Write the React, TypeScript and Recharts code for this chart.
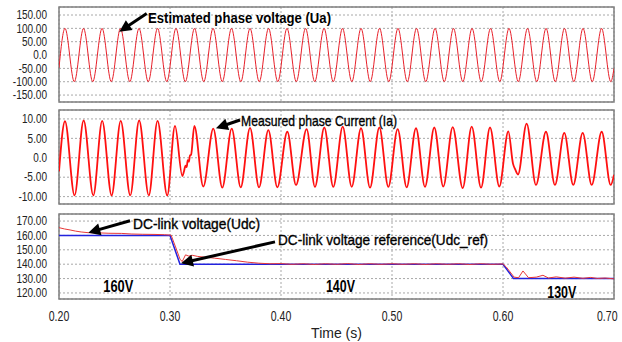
import React from 'react';
import { LineChart, Line, XAxis, YAxis, CartesianGrid, ReferenceArea, ReferenceLine, ReferenceDot } from 'recharts';

// ---------- data ----------
const xTicks = [0.2, 0.3, 0.4, 0.5, 0.6, 0.7];
const uaTicks = [150, 100, 50, 0, -50, -100, -150];
const iaTicks = [10, 5, 0, -5, -10];
const udcTicks = [170, 160, 150, 140, 130, 120];

// Estimated phase voltage Ua (peaks / troughs)
const uaTime = [0.2, 0.2054, 0.2138, 0.2221, 0.2304, 0.2388, 0.2471, 0.2554, 0.2638, 0.2721, 0.2804, 0.2888, 0.2971,
  0.3054, 0.3138, 0.3221, 0.3304, 0.3388, 0.3471, 0.3554, 0.3638, 0.3721, 0.3804, 0.3888, 0.3971,
  0.4054, 0.4138, 0.4221, 0.4304, 0.4388, 0.4471, 0.4554, 0.4638, 0.4721, 0.4804, 0.4888, 0.4971,
  0.5054, 0.5138, 0.5221, 0.5304, 0.5388, 0.5471, 0.5554, 0.5638, 0.5721, 0.5804, 0.5888, 0.5971,
  0.6054, 0.6138, 0.6221, 0.6304, 0.6388, 0.6471, 0.6554, 0.6638, 0.6721, 0.6804, 0.6888, 0.6971, 0.7];
const uaValue = [-48, 100, -100, 100, -100, 100, -100, 100, -100, 100, -100, 100, -100,
  100, -100, 100, -100, 100, -100, 100, -100, 100, -100, 100, -100,
  100, -100, 100, -100, 100, -100, 100, -100, 100, -100, 100, -100,
  100, -100, 100, -100, 100, -100, 100, -100, 100, -100, 100, -100,
  100, -100, 100, -100, 100, -100, 100, -100, 100, -100, 100, -100, -50];

// Measured phase current Ia
const iaTime = [0.2, 0.2054, 0.214, 0.2222, 0.2309, 0.2389, 0.2474, 0.2556, 0.2642, 0.2722, 0.2809, 0.2888, 0.2975,
  0.3045, 0.3111, 0.3125, 0.314, 0.315, 0.316, 0.317, 0.318, 0.319, 0.3219,
  0.33, 0.339, 0.3471, 0.3556, 0.3637, 0.3721, 0.3802, 0.3886, 0.3967, 0.4057, 0.4135,
  0.4231, 0.4306, 0.439, 0.4471, 0.4556, 0.4637, 0.4721, 0.4802, 0.4886, 0.4967,
  0.5051, 0.5132, 0.5216, 0.5297, 0.5381, 0.5462, 0.5547, 0.5637, 0.5718, 0.5802, 0.5883, 0.5967,
  0.6048, 0.609, 0.611, 0.6135, 0.6213, 0.6297, 0.6387, 0.6468, 0.6552, 0.6633, 0.6718, 0.6799, 0.6889, 0.697, 0.7];
const iaValue = [-3.5, 9.4, -9.7, 9.6, -9.7, 9.5, -9.7, 9.5, -9.7, 9.6, -9.7, 9.5, -9.7,
  8.2, -4.7, -3.6, -2.0, -2.4, -0.6, -1.0, 0.6, 0.8, 8.2,
  -7.4, 7.5, -7.7, 7.5, -7.6, 7.7, -7.6, 7.1, -7.6, 6.7, -7.0,
  7.4, -7.5, 7.8, -7.5, 8.0, -7.5, 7.6, -7.7, 7.8, -7.5,
  7.4, -7.6, 7.6, -7.5, 7.8, -7.4, 7.9, -7.8, 8.0, -7.7, 7.8, -7.4,
  6.8, -1.5, -3.0, -4.3, 8.8, -7.0, 6.7, -7.0, 6.4, -7.0, 6.4, -7.0, 6.7, -7.0, -4.4];

// DC-link voltage Udc
const udcTime = [0.2, 0.205, 0.21, 0.215, 0.22, 0.2264, 0.235, 0.245, 0.2565, 0.265, 0.275, 0.2865, 0.295, 0.301,
  0.305, 0.309, 0.311, 0.314, 0.317, 0.32, 0.325, 0.33, 0.34, 0.35, 0.36, 0.37, 0.38, 0.39,
  0.4, 0.41, 0.42, 0.43, 0.44, 0.45, 0.46, 0.47, 0.48, 0.49, 0.5, 0.51, 0.52, 0.53, 0.54, 0.55, 0.56, 0.57, 0.58, 0.59, 0.6,
  0.603, 0.61, 0.614, 0.618, 0.623, 0.63, 0.636, 0.641, 0.648, 0.656, 0.664, 0.672, 0.679, 0.685, 0.692, 0.7];
const udcValue = [165.4, 164.5, 163.8, 163.0, 162.4, 161.9, 161.8, 161.5, 161.4, 161.0, 160.8, 160.7, 160.5, 160.2,
  152.0, 143.5, 141.8, 146.5, 145.6, 146.2, 145.4, 145.0, 144.2, 143.3, 142.4, 141.4, 140.7, 140.3,
  140.4, 139.9, 140.3, 139.8, 140.3, 139.9, 140.4, 139.8, 140.3, 139.9, 140.3, 139.9, 140.3, 139.8, 140.3, 139.9, 140.3, 139.8, 140.3, 139.9, 140.2,
  138.0, 131.0, 130.6, 135.3, 130.6, 131.0, 132.3, 130.4, 131.2, 130.3, 131.0, 130.2, 130.8, 130.1, 130.4, 129.8];

// DC-link voltage reference Udc_ref
const refTime = [0.2, 0.3, 0.309, 0.6, 0.6095, 0.7];
const refValue = [160, 160, 140, 140, 130, 130];

const zip = (ts: number[], vs: number[]) => ts.map((t, i) => ({ t, v: vs[i] }));
const uaData = zip(uaTime, uaValue);
const iaData = zip(iaTime, iaValue);
const udcData = zip(udcTime, udcValue);
const refData = zip(refTime, refValue);

// ---------- styling ----------
const W = 622;
const H = 342;
const FONT = "'Liberation Sans Narrow', 'Arial Narrow', 'Liberation Sans', Arial, sans-serif";
const gridColor = '#a8a8a8';
const boxColor = '#808080';

const yFmt = (v: number) => (v === 0 ? '0.0' : v.toFixed(2));

// width of a narrow label, used to compress the glyphs like the original
const narrowWidth = (s: string, digit: number, dot: number, minus: number) =>
  s.split('').reduce((acc, c) => acc + (c === '.' ? dot : c === '-' ? minus : digit), 0);

const YTick = (props: any) => {
  const { x, y, payload } = props;
  const label = yFmt(payload.value);
  return (
    <text x={x} y={y} dy="0.355em" textAnchor="end" fontFamily={FONT} fontSize={12} fill="#222"
      textLength={narrowWidth(label, 5.6, 2.6, 3.6)} lengthAdjust="spacingAndGlyphs">
      {label}
    </text>
  );
};

const XTick = (props: any) => {
  const { x, y, payload } = props;
  const last = payload.value >= 0.7;
  const label = payload.value.toFixed(2);
  return (
    <text x={last ? x - 17 : x} y={y} dy="0.71em" textAnchor={last ? 'start' : 'middle'} fontFamily={FONT} fontSize={14} fill="#222"
      textLength={20.5} lengthAdjust="spacingAndGlyphs">
      {label}
    </text>
  );
};

const Arrow = (props: any) => {
  const { x1, y1, x2, y2 } = props;
  const dx = x2 - x1;
  const dy = y2 - y1;
  const len = Math.hypot(dx, dy) || 1;
  const ux = dx / len;
  const uy = dy / len;
  const hl = 12;
  const hw = 6;
  const bx = x2 - ux * hl;
  const by = y2 - uy * hl;
  const px = -uy;
  const py = ux;
  return (
    <g>
      <line x1={x1} y1={y1} x2={bx + ux * 2} y2={by + uy * 2} stroke="#000" strokeWidth={3} />
      <polygon points={`${x2},${y2} ${bx + px * hw},${by + py * hw} ${bx - px * hw},${by - py * hw}`} fill="#000" />
    </g>
  );
};

const makeText = (label: string, len: number, size: number, bold: boolean) => (p: any) => (
  <text x={p.cx} y={p.cy} fontFamily={FONT} fontSize={size} fontWeight={bold ? 'bold' : 'normal'} fill="#000"
    textLength={len} lengthAdjust="spacingAndGlyphs" stroke={bold ? 'none' : '#000'} strokeWidth={bold ? 0 : 0.35}>
    {label}
  </text>
);

const abs: React.CSSProperties = { position: 'absolute', left: 0, top: 0 };

export default function App() {
  return (
    <div style={{ position: 'absolute', left: 0, top: 0, width: W, height: H, background: '#fff', overflow: 'hidden' }}>
      {/* Panel 1: estimated phase voltage */}
      <div style={abs}>
        <LineChart width={W} height={H} margin={{ top: 7, right: 8, bottom: 240, left: 0 }}>
          <CartesianGrid stroke={gridColor} strokeDasharray="2 2" />
          <XAxis type="number" dataKey="t" domain={[0.2, 0.7]} ticks={xTicks} hide allowDataOverflow />
          <YAxis type="number" domain={[-176, 180]} ticks={uaTicks} width={59} axisLine={false} tickLine={false}
            tickSize={0} tickMargin={12} tick={YTick} allowDataOverflow interval={0} />
          <Line data={uaData} dataKey="v" type="monotone" stroke="#e8202a" strokeWidth={1} dot={false} activeDot={false} isAnimationActive={false} />
          <ReferenceArea x1={0.2} x2={0.7} y1={-176} y2={180} fill="none" stroke={boxColor} strokeWidth={1.5} ifOverflow="visible" />
          <ReferenceLine segment={[{ x: 0.279, y: 156 }, { x: 0.2543, y: 87 }]} shape={Arrow} ifOverflow="visible" />
          <ReferenceDot x={0.2802} y={120} r={0} ifOverflow="visible" shape={makeText('Estimated phase voltage (Ua)', 183, 15.5, true)} />
        </LineChart>
      </div>

      {/* Panel 2: measured phase current */}
      <div style={abs}>
        <LineChart width={W} height={H} margin={{ top: 110, right: 8, bottom: 138, left: 0 }}>
          <CartesianGrid stroke={gridColor} strokeDasharray="2 2" />
          <XAxis type="number" dataKey="t" domain={[0.2, 0.7]} ticks={xTicks} hide allowDataOverflow />
          <YAxis type="number" domain={[-11.9, 12.3]} ticks={iaTicks} width={59} axisLine={false} tickLine={false}
            tickSize={0} tickMargin={12} tick={YTick} allowDataOverflow interval={0} />
          <Line data={iaData} dataKey="v" type="monotone" stroke="#ff1010" strokeWidth={1.8} dot={false} activeDot={false} isAnimationActive={false} />
          <ReferenceArea x1={0.2} x2={0.7} y1={-11.9} y2={12.3} fill="none" stroke={boxColor} strokeWidth={1.5} ifOverflow="visible" />
          <ReferenceLine segment={[{ x: 0.3631, y: 9.73 }, { x: 0.3414, y: 7.59 }]} shape={Arrow} ifOverflow="visible" />
          <ReferenceDot x={0.364} y={8.18} r={0} ifOverflow="visible" shape={makeText('Measured phase Current (Ia)', 156, 15, false)} />
        </LineChart>
      </div>

      {/* Panel 3: DC-link voltage */}
      <div style={abs}>
        <LineChart width={W} height={H} margin={{ top: 214, right: 8, bottom: 0, left: 0 }}>
          <CartesianGrid stroke={gridColor} strokeDasharray="2 2" />
          <XAxis type="number" dataKey="t" domain={[0.2, 0.7]} ticks={xTicks} height={43} axisLine={false} tickLine={false}
            tickSize={0} tickMargin={12} tick={XTick} allowDataOverflow interval={0}
            label={{ value: 'Time (s)', position: 'insideBottom', offset: 4, style: { fontFamily: FONT, fontSize: 14, fill: '#222' } }} />
          <YAxis type="number" domain={[115.8, 174.9]} ticks={udcTicks} width={59} axisLine={false} tickLine={false}
            tickSize={0} tickMargin={12} tick={YTick} allowDataOverflow interval={0} />
          <Line data={refData} dataKey="v" type="linear" stroke="#2222dd" strokeWidth={1.5} dot={false} activeDot={false} isAnimationActive={false} />
          <Line data={udcData} dataKey="v" type="linear" stroke="#e83838" strokeWidth={1} dot={false} activeDot={false} isAnimationActive={false} />
          <ReferenceArea x1={0.2} x2={0.7} y1={115.8} y2={174.9} fill="none" stroke={boxColor} strokeWidth={1.5} ifOverflow="visible" />
          <ReferenceLine segment={[{ x: 0.264, y: 170.25 }, { x: 0.2264, y: 161.9 }]} shape={Arrow} ifOverflow="visible" />
          <ReferenceLine segment={[{ x: 0.3946, y: 155.5 }, { x: 0.3099, y: 140.7 }]} shape={Arrow} ifOverflow="visible" />
          <ReferenceDot x={0.2667} y={164.5} r={0} ifOverflow="visible" shape={makeText('DC-link voltage(Udc)', 127, 15, false)} />
          <ReferenceDot x={0.3973} y={153.4} r={0} ifOverflow="visible" shape={makeText('DC-link voltage reference(Udc_ref)', 210, 15, false)} />
          <ReferenceDot x={0.2399} y={120.5} r={0} ifOverflow="visible" shape={makeText('160V', 30, 16, true)} />
          <ReferenceDot x={0.4405} y={120.9} r={0} ifOverflow="visible" shape={makeText('140V', 29, 16, true)} />
          <ReferenceDot x={0.6399} y={116.8} r={0} ifOverflow="visible" shape={makeText('130V', 29, 16, true)} />
        </LineChart>
      </div>
    </div>
  );
}
